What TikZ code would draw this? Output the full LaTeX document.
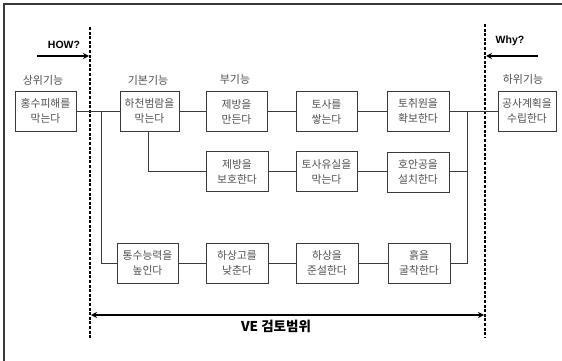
\documentclass[tikz,border=0pt]{standalone}
\usepackage{fontspec}
\setmainfont{Noto Sans CJK KR}
\newfontfamily\latinbold{Liberation Sans}
\usetikzlibrary{arrows.meta}
\definecolor{boxline}{HTML}{3A3A3A}
\definecolor{boxtext}{HTML}{505050}
\tikzset{
  fbox/.style={draw=boxline, line width=0.9pt, minimum height=40pt, text width=60pt, align=center, inner sep=0pt, text=boxtext, font=\fontsize{10.8}{15}\selectfont},
  lvl/.style={text=boxtext, font=\fontsize{11}{12}\selectfont, inner sep=0pt},
  conn/.style={draw=boxline, line width=0.8pt},
  scope line/.style={draw=black, line width=1.5pt, dash pattern=on 3pt off 1.6pt},
  qarrow/.style={draw=black, line width=2pt, -{Stealth[length=6pt,width=6pt]}},
}
\begin{document}
\begin{tikzpicture}[x=1pt,y=-1pt]
\useasboundingbox (0,0) rectangle (562,361);
% frame
\draw[draw=boxline, line width=1.5pt] (4,361) -- (4,4) -- (562,4);
% dashed scope lines
\coordinate (L1) at (90,27); \coordinate (L2) at (90,338);
\coordinate (R1) at (485,24); \coordinate (R2) at (485,338);
\draw[scope line] (L1) -- (L2);
\draw[scope line] (R1) -- (R2);
% HOW / Why
\node[font=\latinbold\bfseries\fontsize{10.5}{12}\selectfont, inner sep=0pt] (how) at (64,45) {HOW?};
\coordinate (h1) at (37,56); \coordinate (h2) at (89,56);
\draw[qarrow] (h1) -- (h2);
\node[font=\latinbold\bfseries\fontsize{10.5}{12}\selectfont, inner sep=0pt] (why) at (510,41) {Why?};
\coordinate (w1) at (538,56); \coordinate (w2) at (486,56);
\draw[qarrow] (w1) -- (w2);
% level labels
\node[lvl] (l1) at (43,80) {상위기능};
\node[lvl] (l2) at (148,80) {기본기능};
\node[lvl] (l3) at (235,79) {부기능};
\node[lvl] (l4) at (523,79) {하위기능};
% boxes
\node[fbox, text width=61pt] (A) at (45.5,111) {홍수피해를\\막는다};
\node[fbox, text width=59pt] (B) at (149.5,111) {하천범람을\\막는다};
\node[fbox, text width=61pt] (C1) at (236.5,111.5) {제방을\\만든다};
\node[fbox, text width=61pt] (C2) at (326.5,111.5) {토사를\\쌓는다};
\node[fbox, text width=62pt] (C3) at (418,111) {토취원을\\확보한다};
\node[fbox, text width=58pt] (D) at (527,111) {공사계획을\\수립한다};
\node[fbox, text width=62pt] (E1) at (237,171.5) {제방을\\보호한다};
\node[fbox, text width=61pt] (E2) at (326.5,171.5) {토사유실을\\막는다};
\node[fbox, text width=62pt] (E3) at (418,172) {호안공을\\설치한다};
\node[fbox, text width=61pt] (F1) at (147.5,263) {통수능력을\\높인다};
\node[fbox, text width=62pt] (F2) at (237,263) {하상고를\\낮춘다};
\node[fbox, text width=62pt] (F3) at (327,263) {하상을\\준설한다};
\node[fbox, text width=62pt] (F4) at (419,263) {흙을\\굴착한다};
% junction coordinates
\coordinate (jl) at (101,111);
\coordinate (jlb) at (101,263);
\coordinate (jr) at (467,111);
\coordinate (jrb) at (467,263);
% connectors
\draw[conn] (A.east |- 0,111) -- (B.west |- 0,111);
\draw[conn] (jl) -- (jlb) -- (F1.west);
\draw[conn] (B.east |- 0,111) -- (C1.west |- 0,111);
\draw[conn] (C1.east |- 0,111) -- (C2.west |- 0,111);
\draw[conn] (C2.east |- 0,111) -- (C3.west |- 0,111);
\draw[conn] (C3.east |- 0,111) -- (D.west |- 0,111);
\draw[conn] (B.south -| 148,0) |- (E1.west |- 0,171);
\draw[conn] (E1.east |- 0,171) -- (E2.west |- 0,171);
\draw[conn] (E2.east |- 0,171) -- (E3.west |- 0,171);
\draw[conn] (E3.east |- 0,171) -- (467,171);
\draw[conn] (jr) -- (jrb) -- (F4.east);
\draw[conn] (F1) -- (F2);
\draw[conn] (F2) -- (F3);
\draw[conn] (F3) -- (F4);
% VE range
\coordinate (v1) at (91,315); \coordinate (v2) at (484,315);
\draw[draw=black, line width=2.4pt, {Stealth[length=6pt,width=6pt]}-{Stealth[length=6pt,width=6pt]}] (v1) -- (v2);
\node[font=\bfseries\fontsize{13.5}{15}\selectfont, inner sep=0pt] (ve) at (276,326) {VE 검토범위};
\end{tikzpicture}
\end{document}
